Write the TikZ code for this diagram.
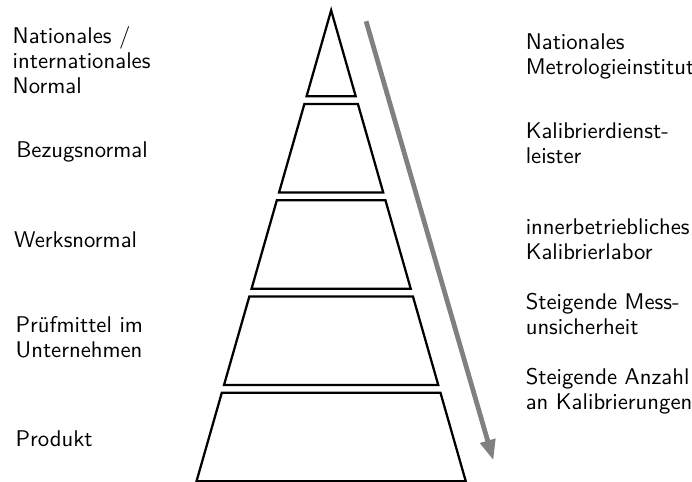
\documentclass[tikz,border=0pt]{standalone}
\usepackage{tikz}
\usetikzlibrary{arrows.meta}

\begin{document}
\begin{tikzpicture}

	\tikzstyle level lines=[line width=1pt];
	\tikzstyle uncertainty arrow=[line width=2.1pt, gray, -{Triangle[length=9pt,width=6.6pt]}];
	\tikzstyle label text=[font=\fontsize{10}{11}\selectfont\sffamily, align=left, inner sep=0pt, anchor=north west];

	\useasboundingbox (0,0) rectangle (10.71,7.45);

	% pyramid: apex at (5.125,7.29), half width 2.084 at the base
	\foreach \b in {0,1.49,2.98,4.47}
		\draw[level lines] ({5.125-0.2859*(7.29-\b)},\b) -- ({5.125+0.2859*(7.29-\b)},\b)
			-- ({5.125+0.2859*(5.92-\b)},\b+1.37) -- ({5.125-0.2859*(5.92-\b)},\b+1.37) -- cycle;
	\draw[level lines] ({5.125-0.2859*1.33},5.96) -- ({5.125+0.2859*1.33},5.96) -- (5.125,7.29) -- cycle;

	\coordinate (arrow start) at (5.666,7.121);
	\coordinate (arrow end) at (7.636,0.325);
	\draw[uncertainty arrow] (arrow start) -- (arrow end);

	% left column
	\node[label text] (national normal) at (0.19,7.044) {Nationales /\\internationales\\Normal};
	\node[label text, anchor=base west] (reference normal) at (0.245,5.02) {Bezugsnormal};
	\node[label text, anchor=base west] (works normal) at (0.21,3.627) {Werksnormal};
	\node[label text] (test equipment) at (0.235,2.555) {Prüfmittel im\\Unternehmen};
	\node[label text, anchor=base west] (product) at (0.235,0.546) {Produkt};

	% right column
	\node[label text] (metrology institute) at (8.13,6.942) {Nationales\\Metrologieinstitut};
	\node[label text] (calibration service) at (8.13,5.558) {Kalibrierdienst-\\leister};
	\node[label text] (calibration lab) at (8.13,4.068) {innerbetriebliches\\Kalibrierlabor};
	\node[label text] (uncertainty) at (8.13,2.917) {Steigende Mess-\\unsicherheit};
	\node[label text] (calibrations) at (8.13,1.756) {Steigende Anzahl\\an Kalibrierungen};

\end{tikzpicture}
\end{document}
